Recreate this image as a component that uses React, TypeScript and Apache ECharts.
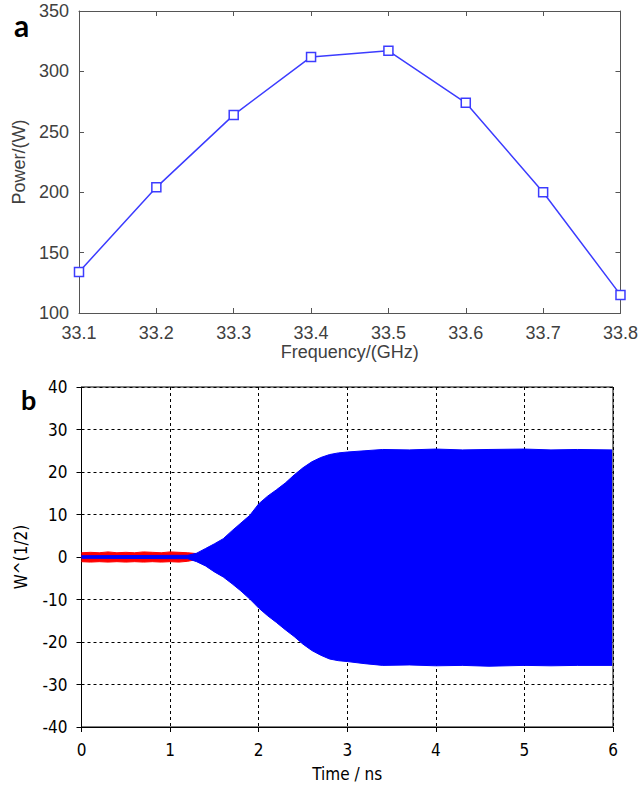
import React, { useEffect, useRef } from "react";
import * as echarts from "echarts";

// Panel a
const freqLabels = ["33.1", "33.2", "33.3", "33.4", "33.5", "33.6", "33.7", "33.8"];
const powerValues = [134, 204, 264, 312, 317, 274, 200, 115];
const powerTicks = { min: 100, max: 350, interval: 50 };

// Panel b (signal envelopes)
const blueTime = [0, 1.2, 1.3, 1.4, 1.5, 1.6, 1.7, 1.8, 1.9, 2.0, 2.1, 2.2, 2.3, 2.4, 2.5, 2.6, 2.7, 2.8, 2.9, 3.0, 3.2, 3.4, 3.7, 4.0, 4.3, 4.6, 5.0, 5.3, 5.6, 5.99];
const blueUpper = [0.3, 0.4, 0.9, 2.0, 3.1, 4.3, 6.2, 8.0, 9.8, 12.5, 14.3, 15.8, 17.4, 19.3, 21.0, 22.4, 23.4, 24.1, 24.5, 24.7, 25.0, 25.3, 25.2, 25.4, 25.2, 25.3, 25.4, 25.2, 25.3, 25.2];
const blueLower = [-0.3, -0.4, -1.1, -2.1, -3.5, -4.7, -6.3, -8.0, -9.9, -12.0, -13.8, -15.4, -17.1, -18.7, -20.5, -22.0, -23.1, -24.0, -24.4, -24.6, -25.1, -25.5, -25.4, -25.6, -25.5, -25.7, -25.5, -25.6, -25.5, -25.5];
const redTime = [0, 0.1, 0.2, 0.3, 0.4, 0.5, 0.6, 0.7, 0.8, 0.9, 1.0, 1.1, 1.2, 1.3];
const redUpper = [1.0, 1.1, 1.0, 1.2, 1.0, 1.1, 1.0, 1.2, 1.1, 1.0, 1.2, 1.1, 1.0, 0.8];
const redLower = [-1.1, -1.2, -1.1, -1.2, -1.1, -1.2, -1.1, -1.2, -1.1, -1.2, -1.1, -1.2, -1.0, -0.6];
const timeTicks = { min: 0, max: 6, interval: 1 };
const ampTicks = { min: -40, max: 40, interval: 10 };

const pair = (xs: number[], ys: number[]) => xs.map((x, i) => [x, ys[i]]);

export default function App() {
  const ref = useRef<HTMLDivElement>(null);
  useEffect(() => {
    document.body.style.margin = "0";
    const chart = echarts.init(ref.current!, null, { renderer: "svg" });
    const grayText = "#404040";
    const grayAxis = "#555555";
    const fA = "Liberation Sans";
    const fB = "DejaVu Sans Condensed, DejaVu Sans";
    const band = (name: string, xs: number[], ys: number[], color: string, z: number) => ({
      name,
      type: "line",
      xAxisIndex: 2,
      yAxisIndex: 2,
      data: pair(xs, ys),
      showSymbol: false,
      symbol: "none",
      lineStyle: { color, width: 1 },
      areaStyle: { color, opacity: 1, origin: 0 },
      z,
    });
    chart.setOption({
      animation: false,
      backgroundColor: "#ffffff",
      grid: [
        { left: 79, top: 11, width: 543, height: 302, show: false },
        { left: 81.5, top: 387, width: 531.5, height: 340, show: true, borderColor: "#000", borderWidth: 1, backgroundColor: "transparent" },
      ],
      xAxis: [
        {
          gridIndex: 0,
          type: "category",
          data: freqLabels,
          boundaryGap: false,
          axisLine: { lineStyle: { color: grayAxis, width: 1 } },
          axisTick: { inside: true, length: 5, lineStyle: { color: grayAxis } },
          axisLabel: { fontSize: 18, color: grayText, fontFamily: fA, margin: 11 },
          splitLine: { show: false },
          name: "Frequency/(GHz)",
          nameLocation: "middle",
          nameGap: 30,
          nameTextStyle: { fontSize: 18, color: grayText, fontFamily: fA },
        },
        {
          gridIndex: 0,
          type: "category",
          data: freqLabels,
          position: "top",
          boundaryGap: false,
          axisLine: { lineStyle: { color: grayAxis, width: 1 } },
          axisTick: { inside: true, length: 5, lineStyle: { color: grayAxis } },
          axisLabel: { show: false },
          splitLine: { show: false },
        },
        {
          gridIndex: 1,
          type: "value",
          ...timeTicks,
          axisLine: { onZero: false, lineStyle: { color: "#000", width: 1 } },
          axisTick: { inside: false, length: 5, lineStyle: { color: "#000" } },
          axisLabel: { fontSize: 17, color: "#000", fontFamily: fB, margin: 14 },
          splitLine: { show: true, lineStyle: { color: "#000", type: [3, 3], width: 1 } },
          name: "Time / ns",
          nameLocation: "middle",
          nameGap: 38,
          nameTextStyle: { fontSize: 17, color: "#000", fontFamily: fB },
        },
      ],
      yAxis: [
        {
          gridIndex: 0,
          type: "value",
          ...powerTicks,
          axisLine: { show: true, lineStyle: { color: grayAxis, width: 1 } },
          axisTick: { show: true, inside: true, length: 5, lineStyle: { color: grayAxis } },
          axisLabel: { fontSize: 18, color: grayText, fontFamily: fA, margin: 10 },
          splitLine: { show: false },
          name: "Power/(W)",
          nameLocation: "middle",
          nameGap: 41,
          nameTextStyle: { fontSize: 18, color: grayText, fontFamily: fA },
        },
        {
          gridIndex: 0,
          type: "value",
          position: "right",
          ...powerTicks,
          axisLine: { show: true, lineStyle: { color: grayAxis, width: 1 } },
          axisTick: { show: true, inside: true, length: 5, lineStyle: { color: grayAxis } },
          axisLabel: { show: false },
          splitLine: { show: false },
        },
        {
          gridIndex: 1,
          type: "value",
          ...ampTicks,
          axisLine: { show: true, onZero: false, lineStyle: { color: "#000", width: 1 } },
          axisTick: { show: true, inside: false, length: 5, lineStyle: { color: "#000" } },
          axisLabel: { fontSize: 17, color: "#000", fontFamily: fB, margin: 14 },
          splitLine: { show: true, lineStyle: { color: "#000", type: [3, 3], width: 1 } },
          name: "W^(1/2)",
          nameLocation: "middle",
          nameGap: 52,
          nameTextStyle: { fontSize: 17, color: "#000", fontFamily: fB },
        },
      ],
      series: [
        {
          name: "Power",
          type: "line",
          xAxisIndex: 0,
          yAxisIndex: 0,
          data: powerValues,
          symbol: "rect",
          symbolSize: 9,
          showAllSymbol: true,
          lineStyle: { color: "#3c3cff", width: 1.5 },
          itemStyle: { color: "#ffffff", borderColor: "#3c3cff", borderWidth: 1.5 },
          z: 3,
        },
        band("redUp", redTime, redUpper, "#ff0000", 2),
        band("redDown", redTime, redLower, "#ff0000", 2),
        band("blueUp", blueTime, blueUpper, "#0000ff", 3),
        band("blueDown", blueTime, blueLower, "#0000ff", 3),
      ],
      graphic: [
        { type: "text", left: 14, top: 10, style: { text: "a", font: "bold 30px Lato", fill: "#000" } },
        { type: "text", left: 21, top: 386, style: { text: "b", font: "bold 27px Lato", fill: "#000" } },
      ],
    });
    return () => chart.dispose();
  }, []);
  return <div ref={ref} style={{ position: "absolute", left: 0, top: 0, width: 641, height: 790 }} />;
}
